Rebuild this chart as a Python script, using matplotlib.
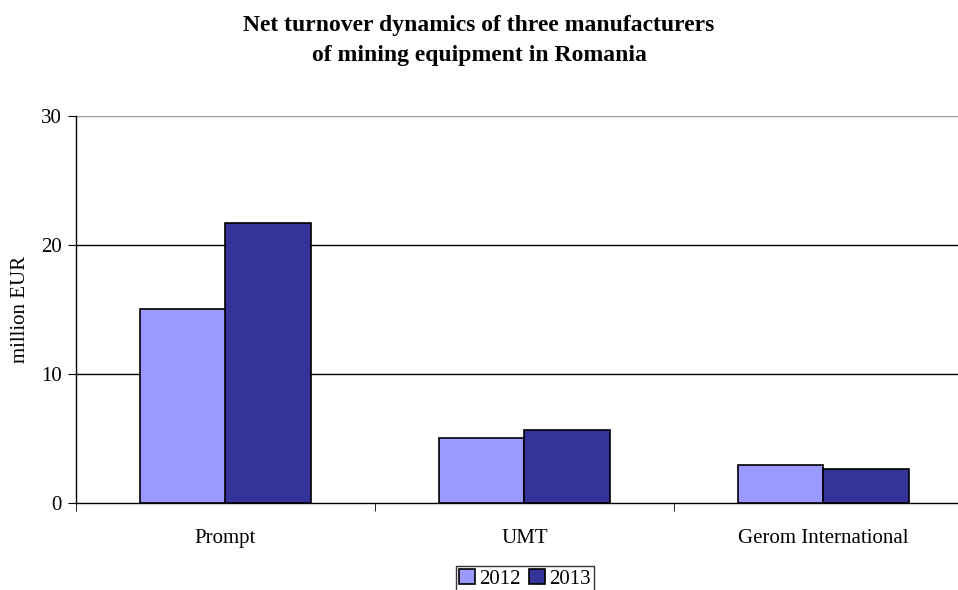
import matplotlib.pyplot as plt
import numpy as np

companies = ['Prompt', 'UMT', 'Gerom International']
years = ['2012', '2013']
turnover_2012 = [15.05, 5.05, 2.95]
turnover_2013 = [21.7, 5.65, 2.65]

plt.rcParams['font.family'] = ['Liberation Serif', 'DejaVu Serif']

fig = plt.figure(figsize=(9.58, 5.9), dpi=100)
ax = fig.add_axes([76 / 958, 87 / 590, 897 / 958, 387 / 590])

x = np.arange(len(companies))
w = 0.287
ax.bar(x - w / 2, turnover_2012, w, color='#9999FF', edgecolor='black', lw=1.2, label=years[0], zorder=3)
ax.bar(x + w / 2, turnover_2013, w, color='#333399', edgecolor='black', lw=1.2, label=years[1], zorder=3)

ax.set_xlim(-0.5, 2.5)
ax.set_ylim(0, 30)
ax.set_yticks([0, 10, 20, 30])
ax.set_xticks(x)
ax.set_xticklabels(companies)
ax.set_xticks([-0.5, 0.5, 1.5, 2.5], minor=True)
ax.tick_params(axis='x', which='major', length=0, pad=19, labelsize=15)
ax.tick_params(axis='x', which='minor', length=6, color='black')
ax.tick_params(axis='y', length=6, labelsize=15, pad=4)

for v in [10, 20]:
    ax.axhline(v, color='black', lw=1, zorder=1)
ax.axhline(30, color='#999999', lw=1, zorder=1)

for s in ['top', 'right']:
    ax.spines[s].set_visible(False)
ax.spines['left'].set_linewidth(1)
ax.spines['bottom'].set_linewidth(1)

ax.set_ylabel('million EUR', fontsize=15, labelpad=8)

fig.suptitle('Net turnover dynamics of three manufacturers\nof mining equipment in Romania',
             x=0.5, y=0.975, fontsize=17, fontweight='bold', linespacing=1.6)

fig.legend(loc='lower center', bbox_to_anchor=(525 / 958, -0.003), ncol=2, frameon=True, fancybox=False,
           edgecolor='black', fontsize=15, handlelength=0.75, handleheight=0.75, handletextpad=0.2,
           columnspacing=0.4, borderpad=0.15, borderaxespad=0)

fig.savefig('out.png', dpi=100)
